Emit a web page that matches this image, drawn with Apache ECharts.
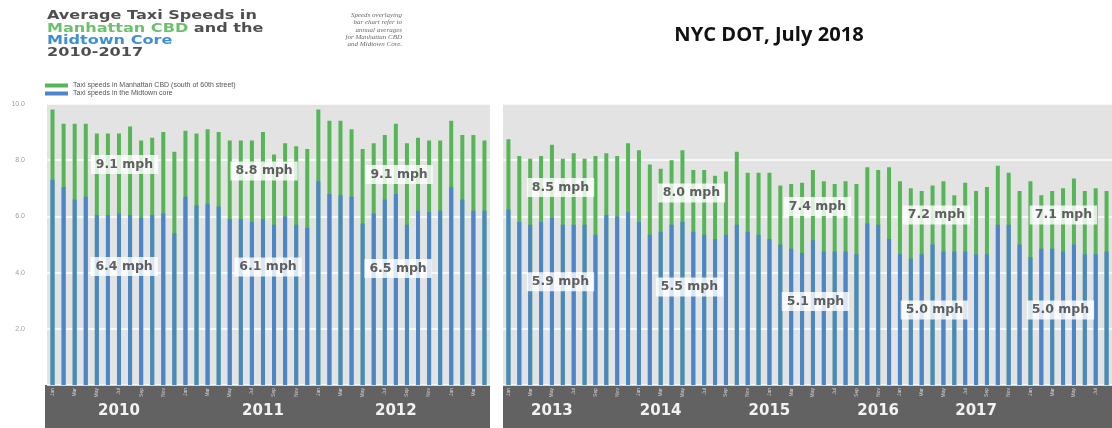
<!DOCTYPE html>
<html>
<head>
  <meta charset="utf-8">
  <title>Average Taxi Speeds in Manhattan CBD and the Midtown Core</title>
  <script src="https://cdn.jsdelivr.net/npm/echarts@6/dist/echarts.min.js"></script>
  <style>
    body { margin: 0; padding: 0; background: #fff; }
    #main { width: 1112px; height: 428px; }
  </style>
</head>
<body>
  <div id="main"></div>
  <script>
    // month slots, 2010-2012 panel and 2013-2017 panel
    var leftMonths = [
      'Jan','Feb','Mar','Apr','May','Jun','Jul','Aug','Sep','Oct','Nov','Dec',
      'Jan','Feb','Mar','Apr','May','Jun','Jul','Aug','Sep','Oct','Nov','Dec',
      'Jan','Feb','Mar','Apr','May','Jun','Jul','Aug','Sep','Oct','Nov','Dec',
      'Jan','Feb','Mar','Apr'
    ];
    var rightMonths = [
      'Jan','Feb','Mar','Apr','May','Jun','Jul','Aug','Sep','Oct','Nov','Dec',
      'Jan','Feb','Mar','Apr','May','Jun','Jul','Aug','Sep','Oct','Nov','Dec',
      'Jan','Feb','Mar','Apr','May','Jun','Jul','Aug','Sep','Oct','Nov','Dec',
      'Jan','Feb','Mar','Apr','May','Jun','Jul','Aug','Sep','Oct','Nov','Dec',
      'Jan','Feb','Mar','Apr','May','Jun','Jul','Aug'
    ];

    // speeds in mph
    var leftCBD = [
      9.8, 9.3, 9.3, 9.3, 8.95, 8.95, 8.95, 9.2, 8.7, 8.8, 9.0, 8.3,
      9.05, 8.95, 9.1, 9.0, 8.7, 8.7, 8.7, 9.0, 8.2, 8.6, 8.5, 8.4,
      9.8, 9.4, 9.4, 9.1, 8.4, 8.6, 8.9, 9.3, 8.6, 8.8, 8.7, 8.7,
      9.4, 8.9, 8.9, 8.7
    ];
    var leftMidtown = [
      7.3, 7.05, 6.6, 6.7, 6.05, 6.05, 6.1, 6.05, 5.95, 6.05, 6.1, 5.4,
      6.7, 6.4, 6.45, 6.35, 5.9, 5.9, 5.8, 5.9, 5.7, 6.0, 5.7, 5.6,
      7.25, 6.8, 6.75, 6.7, 5.75, 6.1, 6.6, 6.8, 5.7, 6.2, 6.15, 6.2,
      7.05, 6.6, 6.2, 6.2
    ];
    var rightCBD = [
      8.75, 8.15, 8.05, 8.15, 8.55, 8.05, 8.25, 8.05, 8.15, 8.25, 8.15, 8.6,
      8.35, 7.85, 7.7, 8.0, 8.35, 7.65, 7.65, 7.45, 7.6, 8.3, 7.55, 7.55,
      7.55, 7.1, 7.15, 7.2, 7.65, 7.25, 7.15, 7.25, 7.15, 7.75, 7.65, 7.75,
      7.25, 7.0, 6.9, 7.1, 7.25, 6.75, 7.2, 6.9, 7.05, 7.8, 7.55, 6.9,
      7.25, 6.75, 6.9, 7.0, 7.35, 6.9, 7.0, 6.9
    ];
    var rightMidtown = [
      6.25, 5.8, 5.7, 5.8, 5.95, 5.7, 5.7, 5.7, 5.35, 6.05, 6.0, 6.15,
      5.8, 5.35, 5.45, 5.7, 5.8, 5.45, 5.35, 5.2, 5.35, 5.7, 5.45, 5.35,
      5.2, 5.0, 4.85, 4.7, 5.15, 4.75, 4.75, 4.75, 4.65, 5.75, 5.7, 5.2,
      4.65, 4.5, 4.65, 5.0, 4.75, 4.75, 4.75, 4.65, 4.65, 5.7, 5.7, 5.0,
      4.55, 4.85, 4.85, 4.75, 5.0, 4.65, 4.65, 4.75
    ];

    var yTicks = [0, 2, 4, 6, 8, 10];

    // year captions on the dark band (index of the month slot they sit under)
    var leftYears = { 6: '2010', 19: '2011', 31: '2012' };
    var rightYears = { 4: '2013', 14: '2014', 24: '2015', 34: '2016', 43: '2017' };

    // annual averages written over the bars: [slot, mph level, text]
    var leftNotes = [
      [6.5, 7.85, '9.1 mph'], [6.46, 4.22, '6.4 mph'],
      [19.1, 7.62, '8.8 mph'], [19.46, 4.2, '6.1 mph'],
      [31.29, 7.49, '9.1 mph'], [31.2, 4.15, '6.5 mph']
    ];
    var rightNotes = [
      [4.79, 7.03, '8.5 mph'], [4.79, 3.67, '5.9 mph'],
      [16.83, 6.83, '8.0 mph'], [16.65, 3.49, '5.5 mph'],
      [28.41, 6.35, '7.4 mph'], [28.23, 2.97, '5.1 mph'],
      [39.35, 6.05, '7.2 mph'], [39.17, 2.67, '5.0 mph'],
      [51.03, 6.05, '7.1 mph'], [50.76, 2.67, '5.0 mph']
    ];

    var CBD_NAME = 'Taxi speeds in Manhattan CBD (south of 60th street)';
    var MID_NAME = 'Taxi speeds in the Midtown core';
    var GREEN = '#55b655';
    var BLUE = '#4a86c8';
    var BAND = '#626262';

    var chart = echarts.init(document.getElementById('main'));

    function monthAxis(grid, cats) {
      return {
        type: 'category', gridIndex: grid, data: cats, position: 'bottom',
        axisLine: { show: false }, axisTick: { show: false },
        axisLabel: { interval: 1, rotate: 90, fontSize: 5, color: '#d2d2d2', margin: 3 }
      };
    }
    function yearAxis(grid, cats, years) {
      return {
        type: 'category', gridIndex: grid, data: cats, position: 'bottom',
        axisLine: { show: false }, axisTick: { show: false },
        axisLabel: {
          interval: 0, margin: 19, fontSize: 15, fontWeight: 'bold',
          fontFamily: 'DejaVu Sans', color: '#f2f2f2',
          formatter: function (v, i) { return years[i] || ''; }
        }
      };
    }
    function noteAxis(grid, n) {
      return { type: 'value', gridIndex: grid, min: -0.5, max: n - 0.5, show: false };
    }
    function speedAxis(grid, showLabels) {
      return {
        type: 'value', gridIndex: grid, min: yTicks[0], max: yTicks[yTicks.length - 1], interval: 2,
        axisLine: { show: false }, axisTick: { show: false },
        axisLabel: {
          show: showLabels, margin: 22, fontSize: 7, color: '#a0a0a0', fontFamily: 'Liberation Sans',
          formatter: function (v) { return v === 0 ? '' : v.toFixed(1); }
        },
        splitLine: { lineStyle: { color: '#ffffff', width: 1.5 } }
      };
    }
    function bars(name, axis, data, color) {
      return {
        name: name, type: 'bar', xAxisIndex: axis, yAxisIndex: axis, data: data,
        barWidth: 4, barGap: '-100%', itemStyle: { color: color }, silent: true
      };
    }
    function notes(xAxis, yAxis, list) {
      return {
        type: 'scatter', xAxisIndex: xAxis, yAxisIndex: yAxis, symbolSize: 0, z: 5, silent: true,
        data: list.map(function (n) { return { value: [n[0], n[1]], name: n[2] }; }),
        label: {
          show: true, position: 'inside', formatter: '{b}',
          backgroundColor: '#ffffff', padding: [3, 5],
          color: '#3a3a3a', fontSize: 12.5, fontWeight: 'bold', fontFamily: 'DejaVu Sans'
        }
      };
    }

    var option = {
      animation: false,
      backgroundColor: '#ffffff',
      legend: {
        orient: 'vertical', left: 45, top: 82, padding: 0, itemGap: 1,
        itemWidth: 23, itemHeight: 4, icon: 'rect',
        data: [CBD_NAME, MID_NAME],
        textStyle: { fontSize: 7, color: '#555', lineHeight: 5, fontFamily: 'Liberation Sans' }
      },
      grid: [
        { left: 47, top: 104, width: 443, height: 281, show: true, backgroundColor: '#e3e3e3', borderWidth: 0 },
        { left: 503, top: 104, width: 614, height: 281, show: true, backgroundColor: '#e3e3e3', borderWidth: 0 }
      ],
      xAxis: [
        monthAxis(0, leftMonths), monthAxis(1, rightMonths),
        yearAxis(0, leftMonths, leftYears), yearAxis(1, rightMonths, rightYears),
        noteAxis(0, leftMonths.length), noteAxis(1, rightMonths.length)
      ],
      yAxis: [speedAxis(0, true), speedAxis(1, false)],
      graphic: [
        { type: 'rect', z: -1, shape: { x: 45, y: 385, width: 445, height: 45 }, style: { fill: BAND } },
        { type: 'rect', z: -1, shape: { x: 503, y: 385, width: 614, height: 45 }, style: { fill: BAND } },
        {
          type: 'text', x: 47, y: 10, scaleX: 1.34,
          style: {
            text: '{d|Average Taxi Speeds in}\n{g|Manhattan CBD}{d| and the}\n{b|Midtown Core}\n{d|2010-2017}',
            verticalAlign: 'top', textVerticalAlign: 'top',
            rich: {
              d: { fill: '#4f4f4f', fontSize: 12, fontWeight: 'bold', fontFamily: 'DejaVu Sans', lineHeight: 12.3 },
              g: { fill: '#6cc06c', fontSize: 12, fontWeight: 'bold', fontFamily: 'DejaVu Sans', lineHeight: 12.3 },
              b: { fill: '#3f8fd2', fontSize: 12, fontWeight: 'bold', fontFamily: 'DejaVu Sans', lineHeight: 12.3 }
            }
          }
        },
        {
          type: 'text', x: 402, y: 11.5,
          style: {
            text: 'Speeds overlaying\nbar chart refer to\nannual averages\nfor Manhattan CBD\nand Midtown Core.',
            align: 'right', textAlign: 'right', verticalAlign: 'top', textVerticalAlign: 'top',
            fontSize: 7, fontStyle: 'italic', fontFamily: 'Liberation Sans Narrow',
            lineHeight: 7.3, fill: '#6a6a6a'
          }
        },
        {
          type: 'text', x: 769, y: 36, scaleX: 1.06,
          style: {
            text: 'NYC DOT, July 2018',
            align: 'center', textAlign: 'center', verticalAlign: 'middle', textVerticalAlign: 'middle',
            fontSize: 19, fontWeight: 'bold', fontFamily: 'Open Sans', fill: '#111111'
          }
        }
      ],
      series: [
        bars(CBD_NAME, 0, leftCBD, GREEN),
        bars(MID_NAME, 0, leftMidtown, BLUE),
        bars(CBD_NAME, 1, rightCBD, GREEN),
        bars(MID_NAME, 1, rightMidtown, BLUE),
        notes(4, 0, leftNotes),
        notes(5, 1, rightNotes)
      ]
    };

    chart.setOption(option);
  </script>
</body>
</html>
